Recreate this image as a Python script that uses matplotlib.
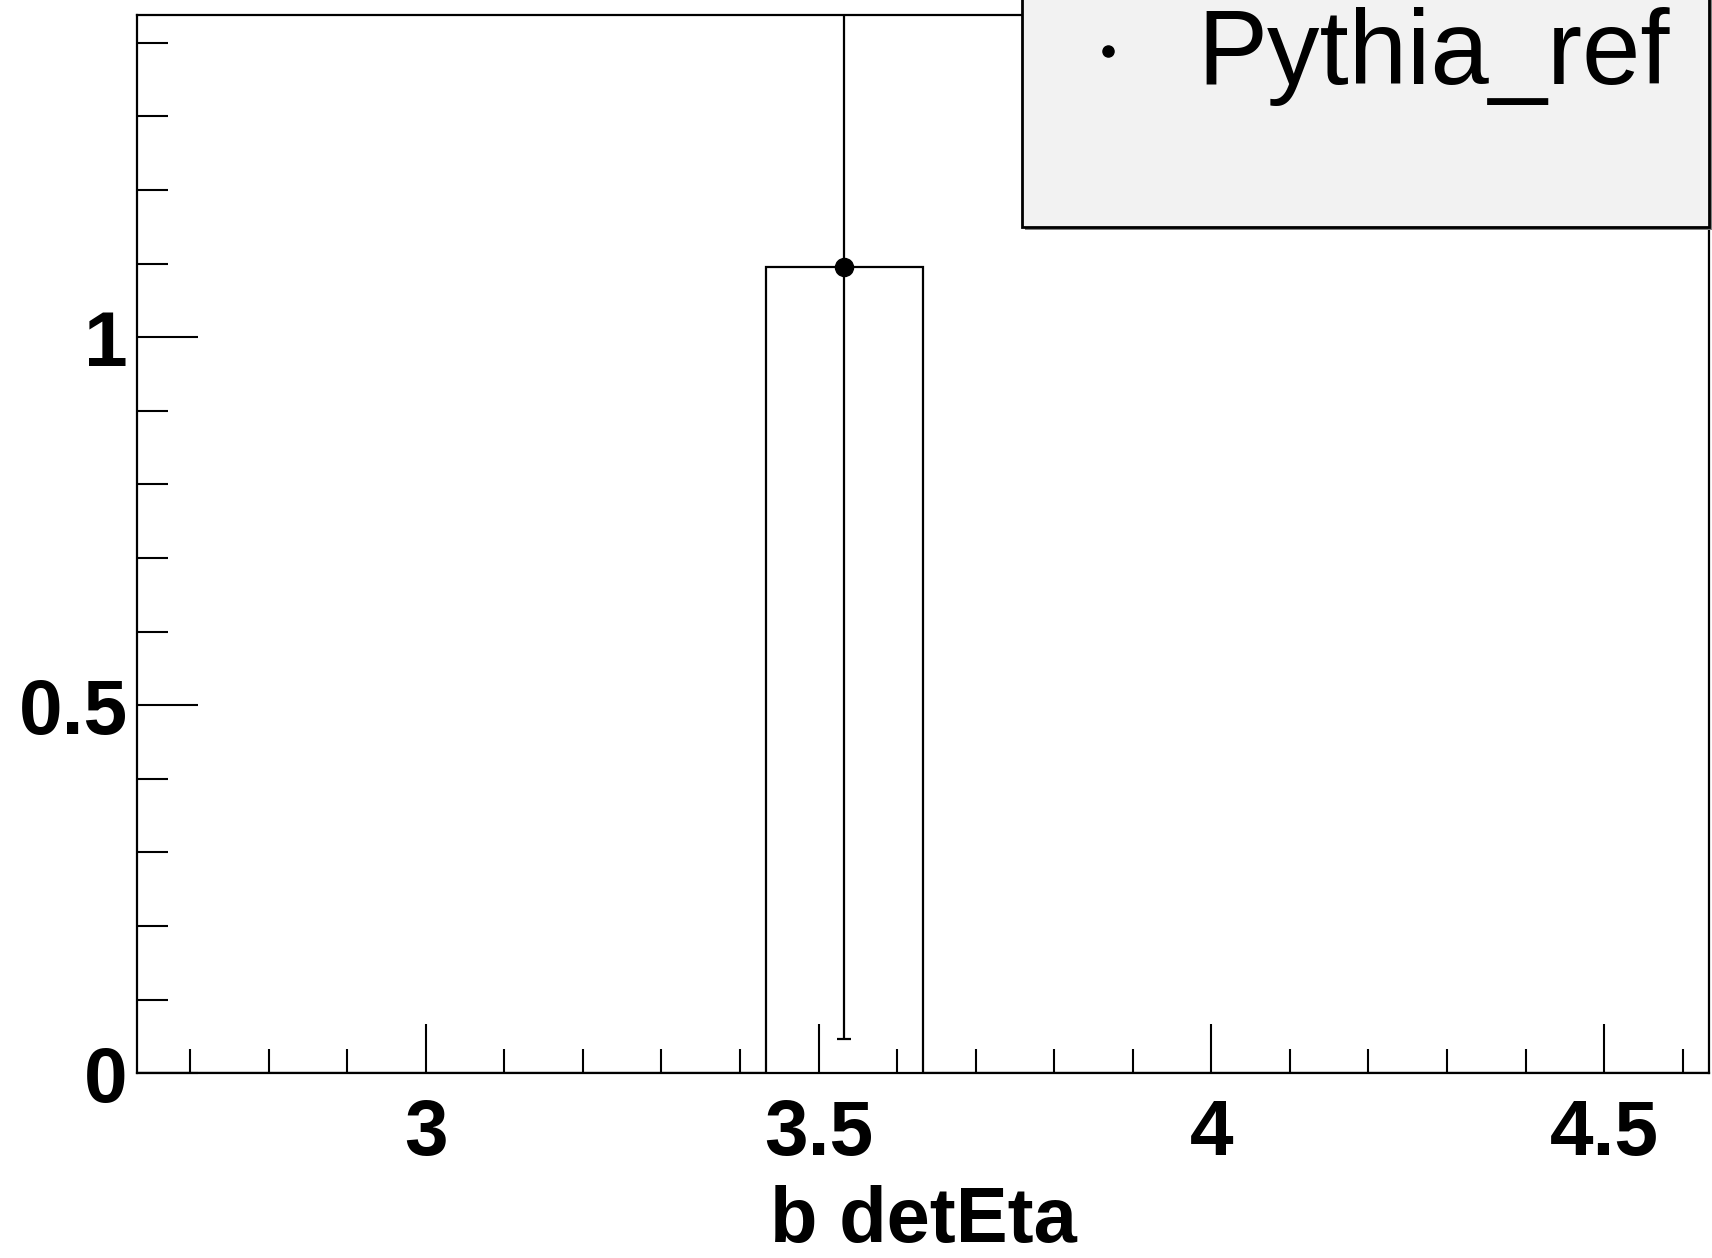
import numpy as np
import matplotlib
matplotlib.use("Agg")
import matplotlib.pyplot as plt
from matplotlib.patches import Rectangle
from matplotlib.lines import Line2D
from matplotlib.ticker import MultipleLocator

# ---- data ----
bin_edges = [2.633, 2.833, 3.033, 3.233, 3.433, 3.633, 3.833, 4.033, 4.233, 4.433, 4.633]
bin_values = [0, 0, 0, 0, 1.095, 0, 0, 0, 0, 0]
point_x = [3.533]
point_y = [1.095]
point_err = [1.048]
x_label = "b detEta"
legend_label = "Pythia_ref"
xticks = [3, 3.5, 4, 4.5]
xtick_labels = ["3", "3.5", "4", "4.5"]
yticks = [0, 0.5, 1]
ytick_labels = ["0", "0.5", "1"]

plt.rcParams['font.family'] = ['Liberation Sans', 'DejaVu Sans']

W, H = 1712, 1258
fig = plt.figure(figsize=(W / 100, H / 100), dpi=100)
ax = fig.add_axes([137.3 / W, 1 - 1073.3 / H, (1708.7 - 137.3) / W, (1073.3 - 15.3) / H])

ax.stairs(bin_values, bin_edges, color='black', linewidth=1.6)
ax.errorbar(point_x, point_y, yerr=point_err, fmt='o', color='black',
            markersize=13, elinewidth=1.6, capsize=5, capthick=1.6)

ax.set_xlim(bin_edges[0], bin_edges[-1])
ax.set_ylim(0, 1.4375)

ax.set_xticks(xticks)
ax.set_xticklabels(xtick_labels)
ax.set_yticks(yticks)
ax.set_yticklabels(ytick_labels)
ax.xaxis.set_minor_locator(MultipleLocator(0.1))
ax.yaxis.set_minor_locator(MultipleLocator(0.1))

ax.tick_params(axis='both', which='both', direction='in', top=False, right=False, width=1.5)
ax.tick_params(axis='x', which='major', length=35, pad=18)
ax.tick_params(axis='x', which='minor', length=17.5)
ax.tick_params(axis='y', which='major', length=44, pad=7)
ax.tick_params(axis='y', which='minor', length=22)
for lab in ax.get_xticklabels() + ax.get_yticklabels():
    lab.set_fontsize(56.5)
    lab.set_fontweight('bold')

for s in ax.spines.values():
    s.set_linewidth(1.6)

ax.set_xlabel(x_label, fontsize=56, fontweight='bold', labelpad=10)

# ---- legend box (ROOT style) ----
lx0, lx1, ly0 = 1021.7 / W, 1709 / W, 1 - 226.7 / H
shadow = Rectangle((lx0 + 3 / W, ly0 - 3 / H), lx1 - lx0, 0.3, transform=fig.transFigure,
                   facecolor='#808080', edgecolor='none', zorder=9)
fig.patches.append(shadow)
box = Rectangle((lx0, ly0), lx1 - lx0, 0.3, transform=fig.transFigure,
                facecolor='#f2f2f2', edgecolor='black', linewidth=2.0, zorder=10)
fig.patches.append(box)
fig.lines.append(Line2D([1108 / W], [1 - 51 / H], marker='o', markersize=8, color='black',
                        transform=fig.transFigure, zorder=11, linestyle='none'))
fig.text(1197 / W, 1 - 57 / H, legend_label, fontsize=75.5, va='center', ha='left', zorder=12)

fig.savefig("out.png", dpi=100)
